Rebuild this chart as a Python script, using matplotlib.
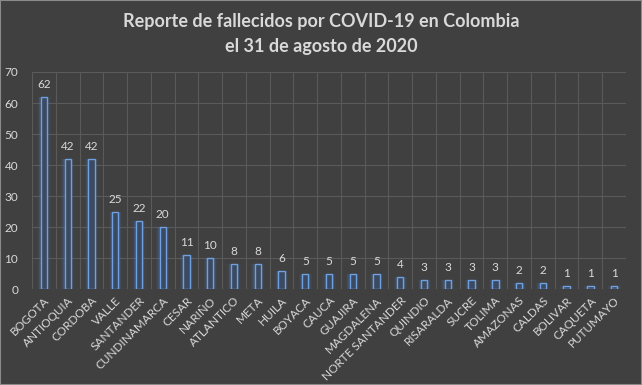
import numpy as np
import matplotlib.pyplot as plt

departamentos = ['BOGOTA', 'ANTIOQUIA', 'CORDOBA', 'VALLE', 'SANTANDER', 'CUNDINAMARCA',
                 'CESAR', 'NARIÑO', 'ATLANTICO', 'META', 'HUILA', 'BOYACA', 'CAUCA',
                 'GUAJIRA', 'MAGDALENA', 'NORTE SANTANDER', 'QUINDIO', 'RISARALDA',
                 'SUCRE', 'TOLIMA', 'AMAZONAS', 'CALDAS', 'BOLIVAR', 'CAQUETA', 'PUTUMAYO']
fallecidos = [62, 42, 42, 25, 22, 20, 11, 10, 8, 8, 6, 5, 5, 5, 5, 4, 3, 3, 3, 3, 2, 2, 1, 1, 1]
yticks = [0, 10, 20, 30, 40, 50, 60, 70]

bg = '#404040'
txt = '#d9d9d9'
plt.rcParams['font.family'] = ['Lato', 'DejaVu Sans']

fig = plt.figure(figsize=(6.42, 3.85), dpi=100, facecolor=bg)
fig.patches.append(plt.Rectangle((0, 0), 1, 1, transform=fig.transFigure,
                                 fill=False, edgecolor='#8a8a8a', linewidth=1.5))
ax = fig.add_axes([0.05, 0.249, 0.925, 0.564])
ax.set_facecolor(bg)

x = np.arange(len(departamentos))
# glow
for w, a in [(0.55, 0.07), (0.46, 0.1), (0.38, 0.16)]:
    ax.bar(x, fallecidos, width=w, color='#4a80cc', alpha=a, linewidth=0, zorder=2)
ax.bar(x, fallecidos, width=0.27, color='#3b4a60', edgecolor='#6fa0e0',
       linewidth=1.0, zorder=3)

for xi, v in zip(x, fallecidos):
    ax.text(xi, v + 2.2, str(v), ha='center', va='bottom', color=txt, fontsize=8.5)

ax.set_xlim(-0.5, len(departamentos) - 0.5)
ax.set_ylim(0, 70)
ax.set_yticks(yticks)
ax.set_xticks(x)
ax.set_xticklabels(departamentos, rotation=45, ha='right', rotation_mode='anchor',
                   color=txt, fontsize=8.5)
ax.tick_params(axis='y', colors=txt, labelsize=8.5, length=0, pad=10)
ax.tick_params(axis='x', length=0, pad=4)
ax.set_xticks(np.arange(-0.5, len(departamentos), 1), minor=True)
ax.tick_params(axis='x', which='minor', length=0)
ax.grid(axis='y', which='major', color='#5a5a5a', linewidth=0.8, zorder=0)
ax.grid(axis='x', which='minor', color='#5a5a5a', linewidth=0.8, zorder=0)
ax.grid(axis='x', which='major', visible=False)
for s in ax.spines.values():
    s.set_visible(False)

fig.text(0.5, 0.912, 'Reporte de fallecidos por COVID-19 en Colombia\nel 31 de agosto de 2020',
         ha='center', va='center', color=txt, fontsize=13, fontweight='bold',
         linespacing=1.55)

fig.savefig('out.png', dpi=100, facecolor=bg)
